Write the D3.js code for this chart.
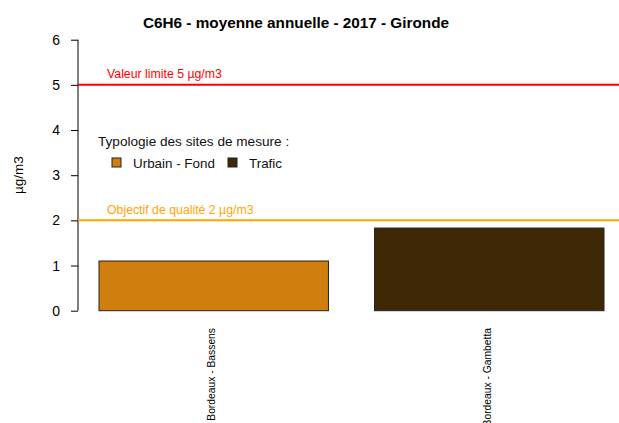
<!DOCTYPE html>
<html>
<head>
<meta charset="utf-8">
<script src="https://cdn.jsdelivr.net/npm/d3@7"></script>
<style>
  html, body { margin: 0; padding: 0; background: #fff; }
  svg { display: block; font-family: "Liberation Sans", Arial, sans-serif; }
</style>
</head>
<body>
<svg id="chart" width="619" height="423"></svg>
<script>
// Annual benzene averages per monitoring site
const sites = ["Bordeaux - Bassens", "Bordeaux - Gambetta"];
const values = [1.10, 1.83];
const siteTypes = ["Urbain - Fond", "Trafic"];
const typeColors = ["#D07F0E", "#3F2806"];
const yTicks = [0, 1, 2, 3, 4, 5, 6];

// Regulatory thresholds
const thresholds = [
  { label: "Valeur limite 5 µg/m3", value: 5, color: "#FF0000" },
  { label: "Objectif de qualité 2 µg/m3", value: 2, color: "#FFA500" }
];

const svg = d3.select("#chart");
const W = 619;

const y = d3.scaleLinear().domain([0, 6]).range([310.7, 39.7]);
const x = d3.scaleBand().domain(sites).range([99, 604])
  .paddingInner(0.1673).paddingOuter(0);
const color = d3.scaleOrdinal().domain(siteTypes).range(typeColors);

// Title
svg.append("text")
  .attr("x", 296).attr("y", 28)
  .attr("text-anchor", "middle")
  .attr("font-size", 15.3).attr("font-weight", "bold")
  .text("C6H6 - moyenne annuelle - 2017 - Gironde");

// Y axis
const yAxis = svg.append("g")
  .attr("transform", "translate(78,0)")
  .call(d3.axisLeft(y).tickValues(yTicks).tickSize(7).tickPadding(11).tickFormat(d3.format("d")));
yAxis.select(".domain").attr("stroke", "#000").attr("d", `M0,${y(0)}V${y(6)}`);
yAxis.selectAll(".tick line").attr("stroke", "#000");
yAxis.selectAll(".tick text")
  .attr("font-size", 14).attr("fill", "#000")
  .attr("font-family", "Liberation Sans, Arial, sans-serif");

svg.append("text")
  .attr("transform", `translate(23,${y(3)}) rotate(-90)`)
  .attr("text-anchor", "middle")
  .attr("font-size", 13.5)
  .text("µg/m3");

// Bars
svg.append("g").selectAll("rect")
  .data(sites)
  .join("rect")
  .attr("x", d => x(d))
  .attr("width", x.bandwidth())
  .attr("y", (d, i) => y(values[i]))
  .attr("height", (d, i) => y(0) - y(values[i]))
  .attr("fill", (d, i) => color(siteTypes[i]))
  .attr("stroke", "#222")
  .attr("stroke-width", 1);

// Site labels, rotated under the bars
svg.append("g").selectAll("text")
  .data(sites)
  .join("text")
  .attr("transform", d => `translate(${x(d) + x.bandwidth() / 2 + 1.5},328) rotate(-90)`)
  .attr("text-anchor", "end")
  .attr("font-size", 10.3)
  .text(d => d);

// Threshold lines with labels
thresholds.forEach(t => {
  svg.append("line")
    .attr("x1", 78).attr("x2", W)
    .attr("y1", y(t.value)).attr("y2", y(t.value))
    .attr("stroke", t.color).attr("stroke-width", 2);
  svg.append("text")
    .attr("x", 107).attr("y", y(t.value) - 6.5)
    .attr("font-size", 12.3)
    .attr("fill", t.color)
    .text(t.label);
});

// Legend
const legend = svg.append("g");
legend.append("text")
  .attr("x", 98).attr("y", 146)
  .attr("font-size", 13.6)
  .attr("fill", "#111")
  .text("Typologie des sites de mesure :");
const legendX = [112, 228];
siteTypes.forEach((t, i) => {
  legend.append("rect")
    .attr("x", legendX[i]).attr("y", 158)
    .attr("width", 9).attr("height", 9)
    .attr("fill", color(t)).attr("stroke", "#222");
  legend.append("text")
    .attr("x", legendX[i] + 21).attr("y", 167.5)
    .attr("font-size", 13.4)
    .attr("fill", "#111")
    .text(t);
});
</script>
</body>
</html>
